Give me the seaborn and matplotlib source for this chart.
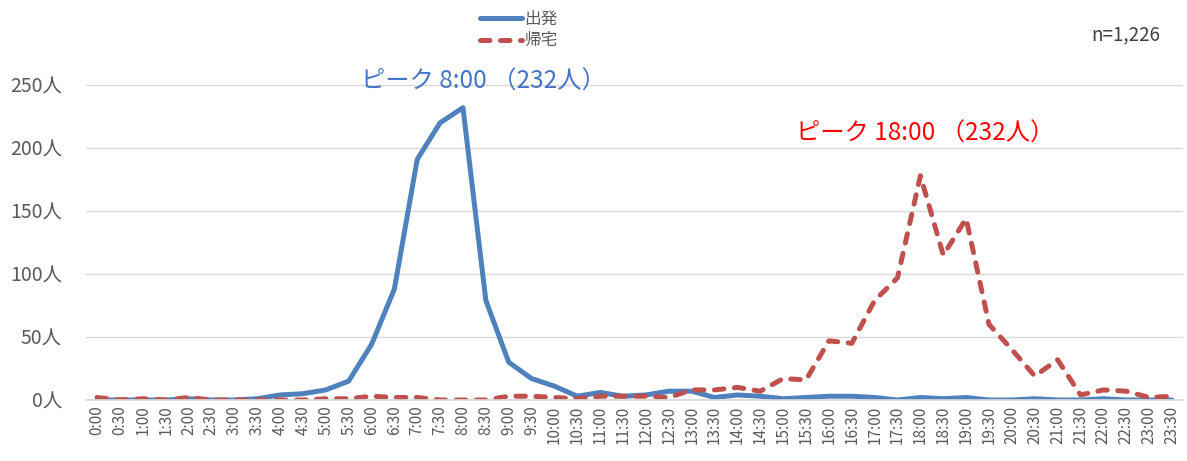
import matplotlib
matplotlib.use("Agg")
import matplotlib.pyplot as plt
import seaborn as sns
import pandas as pd

# Half-hour time slots
times = ["0:00", "0:30", "1:00", "1:30", "2:00", "2:30", "3:00", "3:30",
         "4:00", "4:30", "5:00", "5:30", "6:00", "6:30", "7:00", "7:30",
         "8:00", "8:30", "9:00", "9:30", "10:00", "10:30", "11:00", "11:30",
         "12:00", "12:30", "13:00", "13:30", "14:00", "14:30", "15:00", "15:30",
         "16:00", "16:30", "17:00", "17:30", "18:00", "18:30", "19:00", "19:30",
         "20:00", "20:30", "21:00", "21:30", "22:00", "22:30", "23:00", "23:30"]

# Number of people per slot
departure = [0, 0, 0, 0, 1, 0, 0, 1, 4, 5, 8, 15, 44, 88, 191, 220,
             232, 79, 30, 17, 11, 3, 6, 3, 4, 7, 7, 2, 4, 3, 1, 2,
             3, 3, 2, 0, 2, 1, 2, 0, 0, 1, 0, 0, 1, 0, 0, 0]
return_home = [2, 0, 1, 0, 2, 0, 0, 0, 0, 0, 1, 1, 3, 2, 2, 0,
               0, 0, 3, 3, 2, 1, 3, 3, 3, 2, 8, 8, 10, 7, 17, 16,
               47, 45, 79, 97, 178, 115, 144, 60, 40, 19, 32, 4, 8, 7, 2, 3]

series_names = ["出発", "帰宅"]
y_ticks = [0, 50, 100, 150, 200, 250]
sample_note = "n=1,226"
peak_dep_label = "ピーク 8:00 （232人）"
peak_ret_label = "ピーク 18:00 （232人）"

df = pd.DataFrame({"slot": range(len(times)), "出発": departure, "帰宅": return_home})

sns.set_theme(style="white")
plt.rcParams["font.family"] = ["Noto Sans CJK JP", "DejaVu Sans"]

BLUE = "#4F81BD"
RED = "#C0504D"
GREY = "#595959"

fig = plt.figure(figsize=(11.87, 4.61), dpi=100)
ax = fig.add_axes([0.0721, 0.1323, 0.9249, 0.6833])

sns.lineplot(data=df, x="slot", y="出発", ax=ax, color=BLUE, lw=3.6,
             label=series_names[0], solid_capstyle="round")
sns.lineplot(data=df, x="slot", y="帰宅", ax=ax, color=RED, lw=3.6,
             label=series_names[1], linestyle=(0, (1.9, 2.1)),
             dash_capstyle="round")

ax.set_xlim(-0.5, len(times) - 0.5)
ax.set_ylim(0, 250)
ax.set_xticks(range(len(times)))
ax.set_xticklabels(times, rotation=90, fontsize=11, color=GREY)
ax.set_yticks(y_ticks)
ax.set_yticklabels([f"{v}人" for v in y_ticks], fontsize=14, color=GREY)
ax.tick_params(axis="both", length=0)
ax.tick_params(axis="y", pad=17)
ax.tick_params(axis="x", pad=4)
ax.set_xlabel("")
ax.set_ylabel("")
ax.grid(axis="y", color="#D9D9D9", lw=1)
ax.grid(axis="x", visible=False)
for side in ["top", "right", "left"]:
    ax.spines[side].set_visible(False)
ax.spines["bottom"].set_color("#D9D9D9")
ax.set_axisbelow(True)

# Peak annotations
ax.text(16.9, 253, peak_dep_label, color="#4472C4", fontsize=17.5,
        ha="center", va="center", clip_on=False)
ax.text(36.2, 211, peak_ret_label, color="#FF0000", fontsize=17.5,
        ha="center", va="center")

handles, labels = ax.get_legend_handles_labels()
ax.legend_.remove()
fig.legend(handles, labels, loc="upper left", bbox_to_anchor=(0.392, 1.01),
           frameon=False, fontsize=12, handlelength=2.5, handletextpad=0.15,
           labelspacing=0.3, labelcolor=GREY)

fig.text(0.977, 0.925, sample_note, ha="right", va="center", fontsize=13.5,
         color="#404040")

fig.savefig("out.png", dpi=100)
